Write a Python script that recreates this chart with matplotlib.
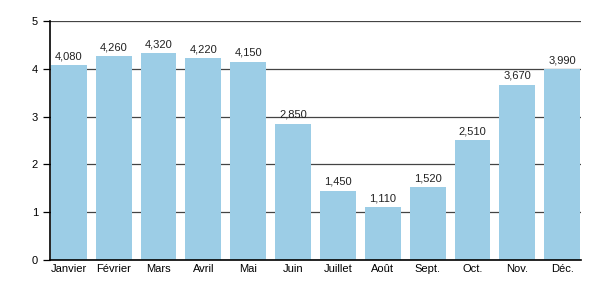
import matplotlib
matplotlib.use("Agg")
import matplotlib.pyplot as plt

mois = ["Janvier", "Février", "Mars", "Avril", "Mai", "Juin",
        "Juillet", "Août", "Sept.", "Oct.", "Nov.", "Déc."]
valeurs = [4.080, 4.260, 4.320, 4.220, 4.150, 2.850,
           1.450, 1.110, 1.520, 2.510, 3.670, 3.990]
etiquettes = ["4,080", "4,260", "4,320", "4,220", "4,150", "2,850",
              "1,450", "1,110", "1,520", "2,510", "3,670", "3,990"]

plt.rcParams["font.family"] = ["Liberation Sans", "DejaVu Sans"]

fig = plt.figure(figsize=(6, 3), dpi=100)
ax = fig.add_axes([0.0833, 0.1333, 0.885, 0.797])

ax.yaxis.grid(True, color="#444444", linewidth=0.9)
ax.set_axisbelow(True)
bars = ax.bar(range(len(mois)), valeurs, width=0.8, color="#9ccde6")
for b, t in zip(bars, etiquettes):
    ax.text(b.get_x() + b.get_width() / 2, b.get_height() + 0.08, t,
            ha="center", va="bottom", fontsize=8, color="#222222")

ax.set_xlim(-0.42, 11.42)
ax.set_ylim(0, 5)
ax.set_yticks([0, 1, 2, 3, 4, 5])
ax.set_xticks(range(len(mois)))
ax.set_xticklabels(mois)
ax.tick_params(axis="x", length=0, labelsize=8, pad=3)
ax.tick_params(axis="y", length=5, labelsize=8, width=0.9)
ax.spines["top"].set_visible(False)
ax.spines["right"].set_visible(False)
ax.spines["left"].set_linewidth(1.2)
ax.spines["bottom"].set_linewidth(1.2)

fig.savefig("out.png", dpi=100)
